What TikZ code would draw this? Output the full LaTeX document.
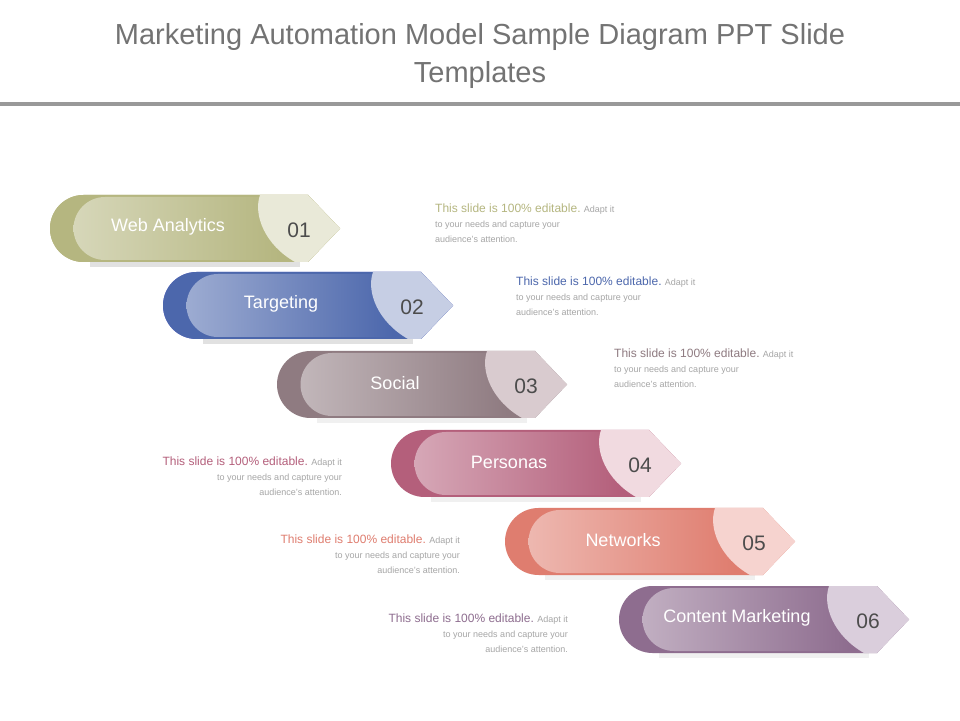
\documentclass[tikz,border=0pt]{standalone}
\usepackage{fontspec}
\setmainfont{Liberation Sans}
\begin{document}
\begin{tikzpicture}[x=1pt,y=1pt,
  lbl/.style={text=white,font=\fontsize{18}{20}\selectfont},
  numlbl/.style={text=black!70,font=\fontsize{21}{23}\selectfont},
  desc/.style={font=\fontsize{9}{15}\selectfont,text=black!35,align=left,inner sep=0pt},
  descr/.style={desc,align=right}]
\useasboundingbox (0,0) rectangle (960,720);
\fill[white] (0,0) rectangle (960,720);
\node[text=black!55,font=\fontsize{29}{38}\selectfont,align=center] (title) at (480,664) {Marketing Automation Model Sample Diagram PPT Slide\\Templates};
\fill[black!40] (0,614) rectangle (960,618);
\newcommand{\banner}[7]{%
\begin{scope}[shift={(#1,720-#2)}]
\fill[black,opacity=.06] (40,-64) rectangle (250,-72);
\fill[#3] (33.5,0) -- (258,0) -- (290,-33.5) -- (258,-67) -- (33.5,-67) arc(270:90:33.5) -- cycle;
\shade[left color=white!45!#3,right color=#3] (55,-2) -- (230,-2) -- (230,-65) -- (55,-65) arc(270:90:31.5) -- cycle;
\fill[#4] (210,0) -- (258,0) -- (290,-33.5) -- (258,-67) -- (245,-67) .. controls (215,-50) and (203,-20) .. (210,0);
\node[lbl] (#7l) at (118,-32) {#5};
\node[numlbl] (#7n) at (249,-35) {#6};
\end{scope}}
\banner{50}{195}{olive!45!white!85!black}{olive!10!white!95!black}{Web Analytics}{01}{a}
\banner{163}{272}{blue!45!black!40!white!70!blue}{blue!15!white!90!black}{Targeting}{02}{b}
\definecolor{c1}{HTML}{B5B680}\definecolor{t1}{HTML}{E9E9D8}
\definecolor{c2}{HTML}{4C67AC}\definecolor{t2}{HTML}{C6CEE4}
\definecolor{c3}{HTML}{8F7B81}\definecolor{t3}{HTML}{D9CBCF}
\definecolor{c4}{HTML}{B45F7B}\definecolor{t4}{HTML}{F1DAE0}
\definecolor{c5}{HTML}{DF7D6F}\definecolor{t5}{HTML}{F6D3CF}
\definecolor{c6}{HTML}{8E6D8F}\definecolor{t6}{HTML}{DACEDC}
\banner{50}{195}{c1}{t1}{Web Analytics}{01}{a}
\banner{163}{272}{c2}{t2}{Targeting}{02}{b}
\banner{277}{351}{c3}{t3}{Social}{03}{c}
\banner{391}{430}{c4}{t4}{Personas}{04}{d}
\banner{505}{508}{c5}{t5}{Networks}{05}{e}
\banner{619}{586}{c6}{t6}{Content Marketing}{06}{f}
\newcommand{\first}[1]{{\fontsize{12}{15}\selectfont\color{#1}This slide is 100\% editable.} Adapt it}
\node[desc,anchor=north west] (d1) at (435,716-200) {\first{c1}\\to your needs and capture your\\audience's attention.};
\node[desc,anchor=north west] (d2) at (516,716-273) {\first{c2}\\to your needs and capture your\\audience's attention.};
\node[desc,anchor=north west] (d3) at (614,716-345) {\first{c3}\\to your needs and capture your\\audience's attention.};
\node[descr,anchor=north east] (d4) at (342,716-453) {\first{c4}\\to your needs and capture your\\audience's attention.};
\node[descr,anchor=north east] (d5) at (460,716-531) {\first{c5}\\to your needs and capture your\\audience's attention.};
\node[descr,anchor=north east] (d6) at (568,716-610) {\first{c6}\\to your needs and capture your\\audience's attention.};
\end{tikzpicture}
\end{document}
